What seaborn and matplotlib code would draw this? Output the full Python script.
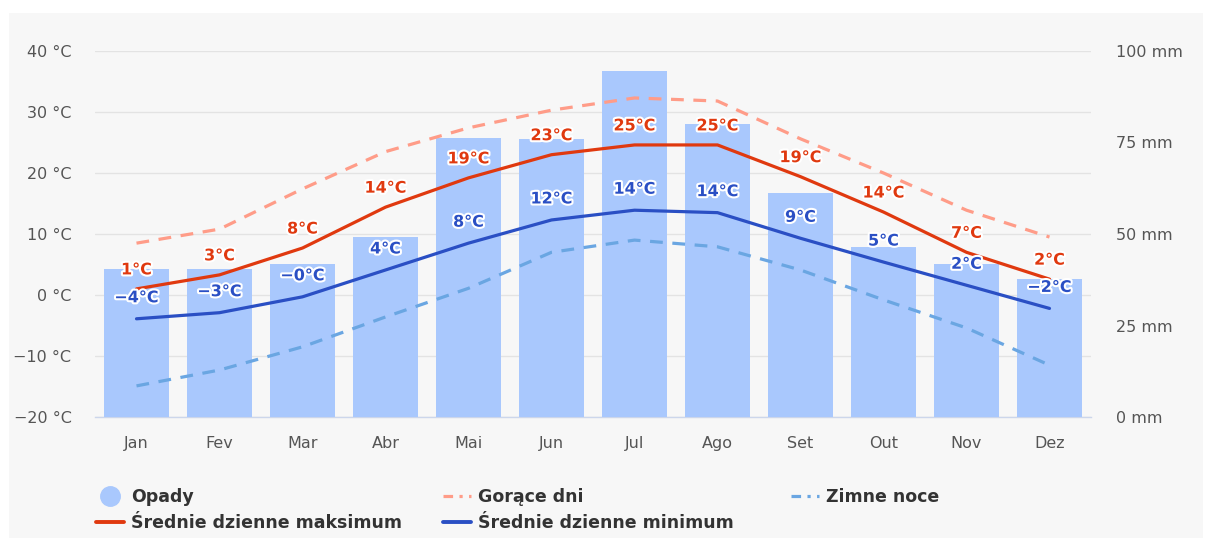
import numpy as np
import pandas as pd
import matplotlib
matplotlib.use("Agg")
import matplotlib.pyplot as plt
import matplotlib.patheffects as pe
from matplotlib.lines import Line2D
from matplotlib.patches import Rectangle
import seaborn as sns

# climate data
months = ["Jan", "Fev", "Mar", "Abr", "Mai", "Jun", "Jul", "Ago", "Set", "Out", "Nov", "Dez"]
precip_mm = [40.4, 40.4, 41.8, 49.2, 76.2, 75.9, 94.5, 80.0, 61.2, 46.4, 41.8, 37.7]
max_temp = [1.0, 3.3, 7.7, 14.4, 19.2, 23.0, 24.6, 24.6, 19.4, 13.6, 7.0, 2.6]
min_temp = [-3.9, -2.9, -0.3, 4.1, 8.5, 12.3, 13.9, 13.5, 9.3, 5.4, 1.6, -2.2]
hot_days = [8.5, 10.8, 17.4, 23.5, 27.4, 30.3, 32.3, 31.8, 25.6, 20.0, 13.9, 9.5]
cold_nights = [-14.9, -12.3, -8.5, -3.6, 1.1, 7.0, 9.0, 7.9, 4.1, -0.8, -5.4, -11.5]
max_labels = ["1°C", "3°C", "8°C", "14°C", "19°C", "23°C", "25°C", "25°C", "19°C", "14°C", "7°C", "2°C"]
min_labels = ["−4°C", "−3°C", "−0°C", "4°C", "8°C", "12°C", "14°C", "14°C", "9°C", "5°C", "2°C", "−2°C"]

temp_ticks = [-20, -10, 0, 10, 20, 30, 40]
mm_ticks = [0, 25, 50, 75, 100]

BAR = "#a9c8fd"
RED = "#e0390f"
BLUE = "#2a4fc4"
HOT = "#ff9c88"
COLD = "#6aa6e2"
TXT = "#555555"

df = pd.DataFrame({
    "pos": np.arange(len(months)),
    "month": months,
    "precip": precip_mm,
    "tmax": max_temp,
    "tmin": min_temp,
    "hot": hot_days,
    "cold": cold_nights,
})

W, H = 1206, 538
sns.set_style("white")
plt.rcParams["font.family"] = ["DejaVu Sans"]
fig = plt.figure(figsize=(W / 100, H / 100), dpi=100, facecolor="white")
fig.patches.append(Rectangle((9 / W, 0), 1 - 12 / W, 1 - 13 / H, transform=fig.transFigure,
                             facecolor="#f7f7f7", edgecolor="none", zorder=-10))

left, right, top, bottom = 95, 1091, 51, 417
ax = fig.add_axes([left / W, 1 - bottom / H, (right - left) / W, (bottom - top) / H])
ax.set_facecolor("none")

# bars on the mm axis, in the middle layer
ax2 = ax.twinx()
sns.barplot(data=df, x="pos", y="precip", ax=ax2, color=BAR, saturation=1, width=0.78,
            edgecolor="none", zorder=1)
# lines on a top temperature layer
ax3 = ax.twinx()

ax.set_zorder(0)
ax2.set_zorder(1)
ax3.set_zorder(2)
for a in (ax2, ax3):
    a.patch.set_visible(False)

line_specs = [
    ("hot", HOT, (0, (4, 3))),
    ("cold", COLD, (0, (4, 3))),
    ("tmax", RED, "-"),
    ("tmin", BLUE, "-"),
]
for col, c, ls in line_specs:
    sns.lineplot(data=df, x="pos", y=col, ax=ax3, color=c, linewidth=2.3, linestyle=ls,
                 solid_joinstyle="round", solid_capstyle="round", dash_capstyle="butt")

stroke = [pe.withStroke(linewidth=3, foreground="white")]
for i in range(len(months)):
    ax3.annotate(max_labels[i], (df["pos"][i], max_temp[i]), xytext=(0, 19),
                 textcoords="offset pixels", ha="center", va="center", color=RED,
                 fontsize=11.5, fontweight="bold", path_effects=stroke, zorder=5)
    ax3.annotate(min_labels[i], (df["pos"][i], min_temp[i]), xytext=(0, 21),
                 textcoords="offset pixels", ha="center", va="center", color=BLUE,
                 fontsize=11.5, fontweight="bold", path_effects=stroke, zorder=5)

# axes scales
for a in (ax, ax3):
    a.set_ylim(-20, 40)
ax2.set_ylim(0, 100)
ax.set_xlim(-0.5, len(months) - 0.5)

ax.set_yticks(temp_ticks)
ax.set_yticklabels([f"{t} °C".replace("-", "−") for t in temp_ticks])
ax2.set_yticks(mm_ticks)
ax2.set_yticklabels([f"{m} mm" for m in mm_ticks])
ax3.set_yticks([])
ax.set_xticks(df["pos"])
ax.set_xticklabels(months)

ax.tick_params(axis="y", length=0, pad=17, labelsize=11.5, labelcolor=TXT)
ax.tick_params(axis="x", length=0, pad=14, labelsize=11.5, labelcolor=TXT)
ax2.tick_params(axis="y", length=0, pad=18, labelsize=11.5, labelcolor=TXT)
for a in (ax2, ax3):
    a.tick_params(axis="x", labelbottom=False, length=0)
    a.set_xlabel("")
    a.set_ylabel("")
ax.set_xlabel("")
ax.set_ylabel("")

ax.grid(axis="y", color="#e3e3e3", linewidth=1)
ax.grid(axis="x", visible=False)
for a in (ax, ax2, ax3):
    for s in a.spines.values():
        s.set_visible(False)
ax.spines["bottom"].set_visible(True)
ax.spines["bottom"].set_color("#ccd6eb")
ax.spines["bottom"].set_linewidth(1)

# legend: three columns placed like the original
dash_dot = (0, (3, 2, 1, 2))
columns = [
    (96, [Line2D([], [], marker="o", linestyle="none", markersize=14, color=BAR),
          Line2D([], [], color=RED, linewidth=2.8)],
     ["Opady", "Średnie dzienne maksimum"]),
    (443, [Line2D([], [], color=HOT, linewidth=2.3, linestyle=dash_dot),
           Line2D([], [], color=BLUE, linewidth=2.8)],
     ["Gorące dni", "Średnie dzienne minimum"]),
    (791, [Line2D([], [], color=COLD, linewidth=2.3, linestyle=dash_dot)],
     ["Zimne noce"]),
]
for x_px, hs, ls in columns:
    leg = fig.legend(hs, ls, loc="upper left", bbox_to_anchor=(x_px / W, 1 - 488 / H),
                     ncol=1, frameon=False, borderpad=0, borderaxespad=0, handlelength=1.6,
                     handletextpad=0.4, labelspacing=0.45,
                     prop={"size": 12.5, "weight": "bold"}, labelcolor="#333333")

fig.savefig("out.png", dpi=100, facecolor=fig.get_facecolor())
